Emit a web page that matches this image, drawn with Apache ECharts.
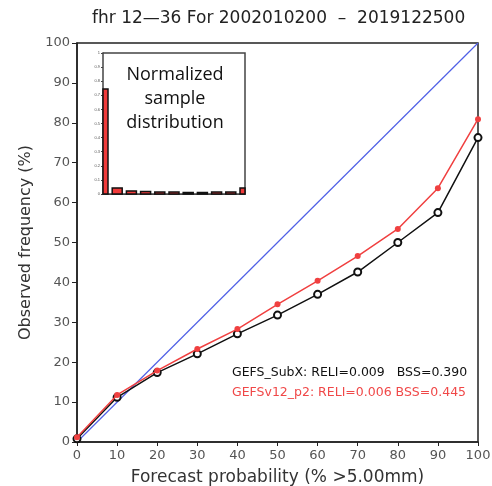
<!DOCTYPE html>
<html lang="en">
  <head>
    <meta charset="utf-8" />
    <title>Reliability diagram</title>
    <style>
      html,
      body,
      #container {
        margin: 0;
        height: 100%;
        width: 100%;
        background: #fff;
      }
    </style>
  </head>

  <body>
    <div id="container"></div>
    <script src="https://cdn.jsdelivr.net/npm/echarts@6/dist/echarts.min.js"></script>
    <script>
      // forecast probability bins (%)
      let probs = [0, 10, 20, 30, 40, 50, 60, 70, 80, 90, 100]
      // observed frequency (%)
      let subxFreq = [0.8, 11.2, 17.4, 22.1, 27.1, 31.8, 37.0, 42.6, 50.0, 57.5, 76.3]
      let v12Freq = [1.2, 11.8, 17.9, 23.3, 28.3, 34.5, 40.4, 46.6, 53.4, 63.6, 80.9]
      // normalized sample distribution (inset)
      let sampleDist = [0.745, 0.043, 0.022, 0.018, 0.014, 0.014, 0.011, 0.011, 0.014, 0.014, 0.043]
      // perfect reliability line
      let diagX = [0, 100]
      let diagY = [0, 100]

      let mainFont = 'DejaVu Sans'
      let chart = echarts.init(document.getElementById('container'))

      // inset bars, clipped to the inset box so the end bars show as halves
      function renderSampleBar(params, api) {
        let top = api.coord([api.value(0), api.value(1)])
        let base = api.coord([api.value(0), 0])
        let w = 10
        let cs = params.coordSys
        let rect = echarts.graphic.clipRectByRect(
          { x: top[0] - w / 2, y: top[1], width: w, height: base[1] - top[1] },
          { x: cs.x, y: cs.y, width: cs.width, height: cs.height }
        )
        if (!rect) return
        return {
          type: 'rect',
          shape: rect,
          style: { fill: '#f03a3a', stroke: '#111', lineWidth: 1.5 },
        }
      }

      let option = {
        animation: false,
        backgroundColor: '#fff',
        title: {
          text: 'fhr 12\u201436 For 2002010200  \u2013  2019122500',
          left: 87,
          top: 5,
          textStyle: { fontFamily: mainFont, fontSize: 17, fontWeight: 'normal', color: '#222' },
        },
        grid: [
          {
            left: 77,
            top: 43,
            width: 401,
            height: 399,
            outerBoundsMode: 'none',
            show: true,
            borderColor: '#222',
            borderWidth: 1.5,
          },
          {
            left: 103,
            top: 53,
            width: 142,
            height: 141,
            outerBoundsMode: 'none',
            show: true,
            borderColor: '#444',
            borderWidth: 1.5,
            backgroundColor: '#fff',
            z: 5,
          },
        ],
        xAxis: [
          {
            type: 'value',
            min: 0,
            max: 100,
            interval: 10,
            name: 'Forecast probability (% >5.00mm)',
            nameLocation: 'middle',
            nameGap: 27,
            nameTextStyle: { fontFamily: mainFont, fontSize: 17, color: '#333' },
            axisLine: { lineStyle: { color: '#222', width: 1.5 } },
            axisTick: { show: true, length: 4, lineStyle: { color: '#222' } },
            axisLabel: { fontFamily: mainFont, fontSize: 13, color: '#555', margin: 7 },
            splitLine: { show: false },
          },
          {
            gridIndex: 1,
            type: 'value',
            min: 0,
            max: 100,
            axisLine: { lineStyle: { color: '#444' } },
            axisTick: { show: false },
            axisLabel: { show: false },
            splitLine: { show: false },
          },
        ],
        yAxis: [
          {
            type: 'value',
            min: 0,
            max: 100,
            interval: 10,
            name: 'Observed frequency (%)',
            nameLocation: 'middle',
            nameGap: 33,
            nameTextStyle: { fontFamily: mainFont, fontSize: 16, color: '#333' },
            axisLine: { lineStyle: { color: '#222', width: 1.5 } },
            axisTick: { show: true, length: 5, lineStyle: { color: '#222' } },
            axisLabel: { fontFamily: mainFont, fontSize: 13, color: '#555', margin: 7 },
            splitLine: { show: false },
          },
          {
            gridIndex: 1,
            type: 'value',
            min: 0,
            max: 1,
            interval: 0.1,
            axisLine: { lineStyle: { color: '#444' } },
            axisTick: { show: true, length: 2, lineStyle: { color: '#444' } },
            axisLabel: { fontSize: 4, color: '#555', margin: 3 },
            splitLine: { show: false },
          },
        ],
        graphic: [
          {
            type: 'text',
            left: 232,
            top: 366,
            style: {
              text: 'GEFS_SubX: RELI=0.009   BSS=0.390',
              fontFamily: mainFont,
              fontSize: 12.5,
              fill: '#111',
            },
          },
          {
            type: 'text',
            left: 232,
            top: 386,
            style: {
              text: 'GEFSv12_p2: RELI=0.006 BSS=0.445',
              fontFamily: mainFont,
              fontSize: 12.5,
              fill: '#f04848',
            },
          },
          {
            type: 'text',
            z: 100,
            x: 175,
            y: 63,
            style: {
              text: 'Normalized\nsample\ndistribution',
              fontFamily: 'Open Sans',
              fontSize: 18,
              lineHeight: 24,
              fill: '#111',
              align: 'center',
              verticalAlign: 'top',
            },
          },
        ],
        series: [
          {
            name: 'perfect',
            type: 'line',
            data: diagX.map((x, i) => [x, diagY[i]]),
            symbol: 'none',
            lineStyle: { color: '#5060e6', width: 1.2 },
            z: 2,
          },
          {
            name: 'GEFS_SubX',
            type: 'line',
            data: probs.map((x, i) => [x, subxFreq[i]]),
            symbol: 'emptyCircle',
            symbolSize: 7,
            lineStyle: { color: '#111', width: 1.5 },
            itemStyle: { color: '#111', borderWidth: 1.5 },
            z: 3,
          },
          {
            name: 'GEFSv12_p2',
            type: 'line',
            data: probs.map((x, i) => [x, v12Freq[i]]),
            symbol: 'circle',
            symbolSize: 6,
            lineStyle: { color: '#f04040', width: 1.5 },
            itemStyle: { color: '#f04040' },
            z: 4,
          },
          {
            name: 'samples',
            type: 'custom',
            xAxisIndex: 1,
            yAxisIndex: 1,
            data: probs.map((x, i) => [x, sampleDist[i]]),
            encode: { x: 0, y: 1 },
            renderItem: renderSampleBar,
            z: 6,
          },
        ],
      }
      chart.setOption(option)
    </script>
  </body>
</html>
